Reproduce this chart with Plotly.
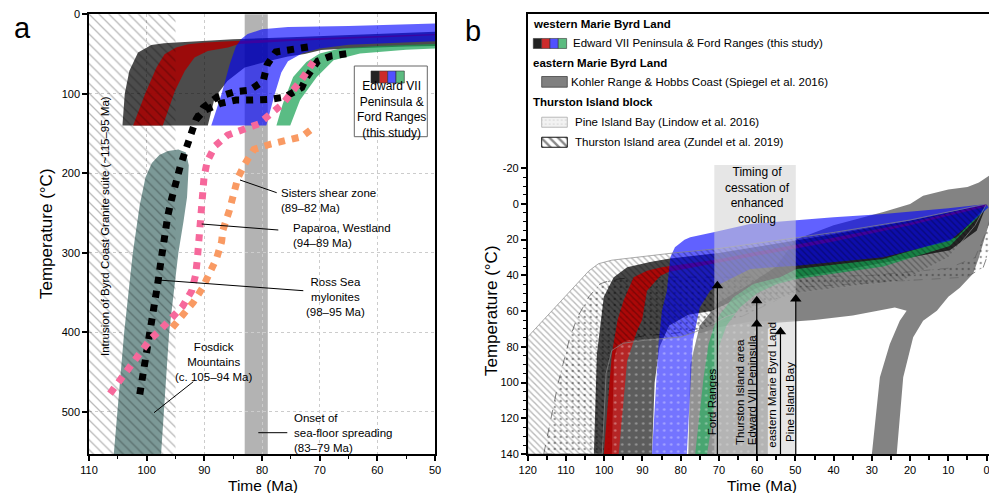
import plotly.graph_objects as go

# The page body has an 8px margin, so the figure is drawn 8px smaller and every
# layout position is given in reference-picture pixels minus that offset.
OFF = 8
W, H = 997 - OFF, 493 - OFF
FONT = "Arial, 'Liberation Sans', sans-serif"

# ---------------- Panel a data ----------------
pa_ticks_x = [110, 100, 90, 80, 70, 60, 50]
pa_ticks_y = [0, 100, 200, 300, 400, 500]
intrusion_x = [110, 95, 95, 110]          # Byrd Coast Granite suite (~115-95 Ma), clipped at 110
intrusion_y = [0, 0, 553, 553]
spreading_x = [83, 79]                    # onset of sea-floor spreading

fosdick_x = [105.7, 103.9, 102.4, 101.2, 100.2, 99.1, 97.8, 96.3, 94.5, 93.2, 92.7, 93.0, 93.6, 94.5, 96.1, 97.5]
fosdick_y = [553, 400, 300, 240, 205, 187, 177, 172, 170, 174, 190, 230, 260, 300, 400, 553]

pa_dark_x = [104.2, 103.8, 103.0, 101.5, 99.2, 97.0, 94.9, 90, 85, 75, 65, 50,
             50, 55, 65, 69.7, 72.6, 75.5, 79, 83, 86, 88.2, 89.4]
pa_dark_y = [140, 100, 71, 48, 38.6, 36.5, 35.6, 33.5, 31.5, 29, 26, 22,
             40, 40.5, 43, 45, 50, 53, 59, 67, 84, 105, 140]
pa_red_x = [102.35, 100.3, 98.3, 96.9, 94.9, 92.8, 89.9, 84.7, 75, 65, 50,
            50, 65, 75, 84, 85.9, 89.4, 91.7, 93.4, 95.1, 97.2]
pa_red_y = [140, 100.6, 67, 50.3, 41.9, 37.7, 35.6, 33.5, 31, 28.5, 25,
            26.5, 30.5, 33.5, 37.5, 41.9, 46.1, 54.5, 71.3, 96.5, 140]
pa_green_x = [77.5, 76.4, 74.6, 72.3, 70, 66.5, 60, 50, 50, 55, 63, 67.6, 70.5, 73.4, 75.1]
pa_green_y = [140, 113, 79, 60, 49.5, 43, 40, 37.5, 43, 44.5, 49.5, 58, 79, 108, 140]
pa_blue_x = [88.8, 87, 85.6, 84.5, 83.6, 82.5, 80, 75.5, 65, 50,
             50, 60, 65, 70, 73, 75.5, 76.65, 77.8, 79.25]
pa_blue_y = [140, 100, 63, 40, 31, 25, 19, 16, 14.7, 11.7,
             34, 36.5, 38.5, 43, 49, 59, 73.4, 100.6, 140]

rossA_x = [101.2, 100.7, 100.2, 99.7, 99.25, 98.85, 98.4, 98.0, 97.6, 97.2, 96.35, 95.7, 95.0, 94.2,
           93.3, 92.4, 91.45, 90.2, 87.75, 84.85, 82.2, 79.8, 79.1, 77.6, 74.7, 72.0]
rossA_y = [478, 457, 437, 417, 396, 376, 355, 335, 314, 293, 254, 233, 212, 192,
           172, 153, 132.5, 117.4, 104, 97.7, 95.6, 84.3, 63.3, 47.4, 43.2, 41.1]
rossB_x = [91.45, 90.0, 87.3, 84.5, 81.6, 78.9, 76.0, 73.1, 72.3, 71.2, 70.3, 68.0, 65.3]
rossB_y = [132.5, 121, 112.4, 108, 108, 107.3, 104, 92.2, 79.6, 68, 58.7, 52.4, 49.5]
paparoa_x = [106.35, 104.75, 103.0, 101.3, 99.4, 97.5, 95.5, 93.75, 92.2, 91.5, 91.2, 91.0, 90.75,
             90.5, 90.35, 90.05, 89.5, 88.15, 85.95, 83.35, 80.6, 78.45, 76.3, 74.6, 73.1, 71.1]
paparoa_y = [477, 461, 443, 427, 409, 396, 381.5, 367, 348, 327.5, 307, 286, 265,
             245, 225, 204.6, 185, 165.7, 152, 146, 138, 125, 112, 95.6, 82, 60]
sisters_x = [95.55, 93.65, 91.9, 90.3, 89.0, 87.85, 87.0, 86.8, 85.65, 84.2, 82.95, 81.4, 78.6, 75.85, 73.1, 70.8]
sisters_y = [394, 378, 362, 344, 325, 306.5, 286, 272, 246.5, 206, 188, 170, 163.5, 159, 154, 141]

# ---------------- Panel b data ----------------
pb_ticks_x = list(range(120, -1, -10))
pb_ticks_y = list(range(-20, 141, 20))
pb_ticktext_y = [str(v) for v in pb_ticks_y]

pb_kohler_x = [78, 77.5, 75, 70, 62, 55, 50, 40, 27, 20, 16.6, 10, 5, 2, -1.5,
               -1.5, 0.7, 2, 3.5, 7, 10, 13, 16.6, 19.2, 21.8, 23.5,
               30, 27.9, 25.3, 22.7, 20.9, 24, 28.8, 35, 45, 55, 57.2, 57.2]
pb_kohler_y = [140, 90, 68, 55, 45, 35, 20, 12, 4.5, 0, -4.6, -8, -9.5, -12, -17,
               5, 20.6, 30, 39, 47, 52, 59.8, 65.4, 74.7, 97, 140,
               140, 97, 78.4, 65.4, 59.8, 58, 60, 62.5, 65, 66.5, 70, 140]
pb_pib_x = [115.8, 112, 109, 107, 104, 101, 98, 94, 85, 70, 50, 30, 10, 3, 0, -1.8,
            -1.6, 0.9, 5.3, 21.8, 35, 48.8, 56, 64, 72, 80, 90, 94, 96.5, 97.5, 98]
pb_pib_y = [140, 100, 75, 63.5, 52, 44.7, 42.5, 41.5, 41, 41, 41, 40, 36, 30, 15, 2,
            20.6, 35.6, 41, 43, 45, 46.7, 55, 63, 68, 72, 74, 75.5, 78.5, 88, 140]
pb_dark_x = [102.7, 101.9, 100.1, 97.5, 94, 88, 82.8, 70, 60, 40, 20, 0,
             0, 2.6, 9.6, 15, 27, 40, 50, 60, 66, 72, 78, 83, 85.5, 86.8, 87.5]
pb_dark_y = [140, 84, 52, 41, 35.5, 32.5, 30.5, 27.5, 24, 17, 9.5, 0,
             0.5, 15, 26, 28, 33, 38, 41, 47, 54, 60, 62, 68, 80, 100, 140]
pb_red_x = [100.1, 98.5, 98, 96.5, 94.9, 92.3, 88.8, 85, 70, 61.8, 40, 20, 0,
            0, 20, 40, 61.8, 70, 83, 85.3, 88.8, 90.1, 91.4, 94, 95, 96.2]
pb_red_y = [140, 100, 84, 65, 54, 41, 37.4, 35.5, 31, 27.5, 19, 10.5, 0,
            1.5, 12, 21, 29.5, 33, 38, 40.2, 48.6, 65, 71, 88, 110, 140]
pb_green_x = [76.2, 74, 72.7, 71, 69.7, 66.2, 61, 54, 49.7, 27, 7.8, 0,
              0, 9.6, 27, 49.7, 55, 60, 64.5, 68, 70, 71.4, 73.1]
pb_green_y = [140, 97, 78.4, 67, 61.6, 52.3, 44.8, 41, 36.4, 30.8, 18.7, 1,
              2.5, 23.5, 35, 42, 45, 50, 58, 68, 80, 115.8, 140]
pb_blue_x = [87.5, 85.8, 84.9, 83.6, 82.7, 81.5, 79, 77.5, 71.4, 61.9, 40, 27, 10, 0,
             -0.5, 9.6, 27, 49.7, 61.8, 69.7, 72.3, 75, 76.8, 78.4]
pb_blue_y = [140, 78.4, 59.8, 48.6, 29.9, 24.3, 20, 18.7, 15.9, 11.2, 7.5, 5.6, 2.5, 0,
             2, 20.6, 29.9, 34.6, 36.4, 44.8, 48.6, 58, 76.6, 140]
pb_light_x = [98, 97.5, 96.5, 94, 85, 75, 70, 62, 57, 50, 50]
pb_light_y = [140, 88, 79, 76.5, 75, 72.5, 69, 66, 65.5, 65, 140]
pb_thurston_x = [120, 120, 112, 104, 101.5, 98, 90, 82, 70, 60, 40, 20, 0,
                 3, 10, 22, 35, 50, 60, 68, 74, 80, 90, 95, 98, 99.5, 100.5]
pb_thurston_y = [140, 74.5, 56, 37.5, 33.5, 31.5, 29.5, 27.5, 25, 22, 16, 9, 0,
                 12, 30, 43, 46, 50, 57, 63, 70, 74.5, 76.5, 78, 82, 95, 140]

timing_x = [71.2, 49.9]
timing_y = [-21.8, 140]
arrow_x = [70.4, 60.1, 60.1, 53.9, 49.9]
arrow_tip = [43, 51.4, 64.4, 68.7, 50.4]

# ---------------- helpers (reference-picture pixels -> paper fractions) ----------------
def pxp(x): return (x - OFF) / W
def pyp(y): return 1 - (y - OFF) / H
def bx(x): return 120 - (x - 527.7) / 3.825
def by(y): return (y - 203.3) / 1.785

fig = go.Figure()

def poly(x, y, color, xa='x', ya='y', line=None, pattern=None):
    fig.add_trace(go.Scatter(x=list(x) + [x[0]], y=list(y) + [y[0]], xaxis=xa, yaxis=ya,
                             fill='toself', fillcolor=color, mode='lines',
                             line=line or dict(width=0, color='rgba(0,0,0,0)'),
                             fillpattern=pattern, hoverinfo='skip', showlegend=False))

def dotted(x, y, color, xa='x', ya='y'):
    fig.add_trace(go.Scatter(x=x, y=y, xaxis=xa, yaxis=ya, mode='lines',
                             line=dict(color=color, width=7, dash='dot'),
                             hoverinfo='skip', showlegend=False))

# ---------------- Panel a ----------------
poly(fosdick_x, fosdick_y, '#7c9997')
poly(pa_dark_x, pa_dark_y, 'rgba(0,0,0,0.70)')
poly(pa_red_x, pa_red_y, 'rgba(170,0,0,0.85)')
poly(pa_green_x, pa_green_y, 'rgba(20,160,80,0.70)')
poly(pa_blue_x, pa_blue_y, 'rgba(0,0,255,0.62)')
poly(intrusion_x, intrusion_y, 'rgba(0,0,0,0)',
     pattern=dict(shape='\\', size=7, solidity=0.18, fgcolor='rgba(0,0,0,0.55)',
                  bgcolor='rgba(0,0,0,0)'))
dotted(sisters_x, sisters_y, '#f99a63')
dotted(rossA_x, rossA_y, '#000000')
dotted(rossB_x, rossB_y, '#000000')
dotted(paparoa_x, paparoa_y, '#f6689b')

# ---------------- Panel b ----------------
poly(pb_kohler_x, pb_kohler_y, 'rgba(90,90,90,0.75)', 'x2', 'y2')
poly(pb_pib_x, pb_pib_y, 'rgba(0,0,0,0)', 'x2', 'y2',
     line=dict(width=0.8, color='#666', dash='dash'),
     pattern=dict(shape='.', size=6, solidity=0.12, fgcolor='#333', bgcolor='rgba(0,0,0,0)'))
poly(pb_dark_x, pb_dark_y, 'rgba(0,0,0,0.72)', 'x2', 'y2')
poly(pb_red_x, pb_red_y, 'rgba(185,0,0,0.88)', 'x2', 'y2')
poly(pb_green_x, pb_green_y, 'rgba(20,160,80,0.75)', 'x2', 'y2')
poly(pb_blue_x, pb_blue_y, 'rgba(0,0,255,0.62)', 'x2', 'y2')
poly(pb_light_x, pb_light_y, 'rgba(255,255,255,0.12)', 'x2', 'y2',
     pattern=dict(shape='.', size=7, solidity=0.1, fgcolor='rgba(255,255,255,0.7)',
                  bgcolor='rgba(255,255,255,0.12)'))
poly(pb_thurston_x, pb_thurston_y, 'rgba(0,0,0,0)', 'x2', 'y2',
     line=dict(width=0.7, color='#888'),
     pattern=dict(shape='\\', size=4.5, solidity=0.3, fgcolor='rgba(0,0,0,0.55)',
                  bgcolor='rgba(0,0,0,0)'))
poly([timing_x[0], timing_x[1], timing_x[1], timing_x[0]],
     [timing_y[0], timing_y[0], timing_y[1], timing_y[1]], 'rgba(209,209,209,0.54)', 'x2', 'y2')

for ax_, tip in zip(arrow_x, arrow_tip):
    fig.add_trace(go.Scatter(x=[ax_, ax_], y=[140, tip + 3], xaxis='x2', yaxis='y2', mode='lines',
                             line=dict(color='black', width=1.2), hoverinfo='skip', showlegend=False))
fig.add_trace(go.Scatter(x=arrow_x, y=[t + 2.8 for t in arrow_tip], xaxis='x2', yaxis='y2',
                         mode='markers', marker=dict(symbol='triangle-up', size=10, color='black'),
                         hoverinfo='skip', showlegend=False))

# legend swatches panel b
sw_colors = ['#222222', '#cc2b2b', '#5151ff', '#5cbb80']
for i, c in enumerate(sw_colors):
    x0, x1 = bx(533.3 + 8.33 * i), bx(533.3 + 8.33 * (i + 1))
    poly([x0, x1, x1, x0], [by(38), by(38), by(48), by(48)], c, 'x2', 'y2',
         line=dict(width=0.6, color='#333'))
poly([bx(541.7), bx(567.3), bx(567.3), bx(541.7)], [by(76), by(76), by(86.7), by(86.7)],
     '#808080', 'x2', 'y2', line=dict(width=0.8, color='#444'))
poly([bx(541.7), bx(567.3), bx(567.3), bx(541.7)], [by(116.7), by(116.7), by(126.7), by(126.7)],
     '#f0f0f0', 'x2', 'y2', line=dict(width=0.8, color='#aaa'),
     pattern=dict(shape='.', size=4, solidity=0.15, fgcolor='#bbb', bgcolor='#f2f2f2'))
poly([bx(541.7), bx(567.3), bx(567.3), bx(541.7)], [by(136.7), by(136.7), by(146.7), by(146.7)],
     'white', 'x2', 'y2', line=dict(width=1, color='#111'),
     pattern=dict(shape='\\', size=6, solidity=0.4, fgcolor='#111', bgcolor='white'))

# ---------------- shapes ----------------
shapes = [
    dict(type='rect', xref='x', yref='y', x0=spreading_x[0], x1=spreading_x[1], y0=553, y1=0,
         fillcolor='#b3b3b3', line=dict(width=0), layer='below'),
    dict(type='rect', xref='paper', yref='paper', x0=pxp(354.3), x1=pxp(427.3), y0=pyp(66), y1=pyp(136.7),
         fillcolor='white', line=dict(width=1, color='#666'), layer='above'),
]
for i, c in enumerate(sw_colors):
    shapes.append(dict(type='rect', xref='paper', yref='paper', x0=pxp(371 + 8.33 * i), x1=pxp(371 + 8.33 * (i + 1)),
                       y0=pyp(71), y1=pyp(83), fillcolor=c, line=dict(width=0.6, color='#333'), layer='above'))
leaders = [((240, 180), (276.7, 192.7)), ((201.7, 224), (278.3, 230)), ((158.3, 280), (303.3, 290.7)),
           ((193.3, 381.7), (154, 412.7)), ((258.3, 432.7), (287.3, 432.7))]
for (a, b) in leaders:
    shapes.append(dict(type='line', xref='paper', yref='paper', x0=pxp(a[0]), y0=pyp(a[1]),
                       x1=pxp(b[0]), y1=pyp(b[1]), line=dict(color='black', width=1), layer='above'))

# ---------------- annotations ----------------
ann = []
def txt(x, y, t, size=11.5, xanchor='center', yanchor='middle', angle=0, align='center', bold=False):
    if bold:
        t = '<b>' + t + '</b>'
    ann.append(dict(x=pxp(x), y=pyp(y), xref='paper', yref='paper', text=t, showarrow=False,
                    xanchor=xanchor, yanchor=yanchor, textangle=angle, align=align,
                    font=dict(size=size, color='black', family=FONT)))

txt(22, 28, 'a', size=29)
txt(473, 31, 'b', size=29)
txt(263, 485, 'Time (Ma)', size=15.5)
txt(762, 485, 'Time (Ma)', size=15.5)
txt(46, 234, 'Temperature (°C)', size=17, angle=-90)
txt(491, 311, 'Temperature (°C)', size=17, angle=-90)
txt(105, 226, 'Intrusion of Byrd Coast Granite suite (~115–95 Ma)', size=11.5, angle=-90)
txt(279, 201, 'Sisters shear zone<br>(89–82 Ma)', xanchor='left', align='left')
txt(290.7, 235, 'Paparoa, Westland<br>(94–89 Ma)', xanchor='left', align='left')
txt(335, 297.3, 'Ross Sea<br>mylonites<br>(98–95 Ma)')
txt(214.3, 362, 'Fosdick<br>Mountains<br>(c. 105–94 Ma)')
txt(292.3, 432.7, 'Onset of<br>sea-floor spreading<br>(83–79 Ma)', xanchor='left', align='left')
txt(391, 109.5, 'Edward VII<br>Peninsula &<br>Ford Ranges<br>(this study)', size=12)

txt(530.7, 24, 'western Marie Byrd Land', xanchor='left', bold=True)
txt(570.7, 43.3, 'Edward VII Peninsula & Ford Ranges (this study)', xanchor='left')
txt(530.7, 62.7, 'eastern Marie Byrd Land', xanchor='left', bold=True)
txt(569.3, 81.7, 'Kohler Range & Hobbs Coast (Spiegel et al. 2016)', xanchor='left')
txt(530.7, 102.3, 'Thurston Island block', xanchor='left', bold=True)
txt(573.3, 122.3, 'Pine Island Bay (Lindow et al. 2016)', xanchor='left')
txt(573.3, 141.7, 'Thurston Island area (Zundel et al. 2019)', xanchor='left')

txt(757, 195.2, 'Timing of<br>cessation of<br>enhanced<br>cooling', size=12)
txt(711.7, 437, 'Ford Ranges', angle=-90, yanchor='bottom')
txt(740, 447, 'Thurston Island area', angle=-90, yanchor='bottom')
txt(751.7, 447, 'Edward VII Peninsula', angle=-90, yanchor='bottom')
txt(771.7, 450, 'eastern Marie Byrd Land', angle=-90, yanchor='bottom')
txt(790, 444, 'Pine Island Bay', angle=-90, yanchor='bottom')

axis_common = dict(ticks='outside', ticklen=5, tickwidth=1.5, tickcolor='black', showline=True,
                   linewidth=1.5, linecolor='black', mirror=True, zeroline=False, automargin=False,
                   tickfont=dict(size=11, family=FONT, color='black'))

fig.update_layout(
    width=W, height=H, margin=dict(l=0, r=0, t=0, b=0, pad=0, autoexpand=False),
    paper_bgcolor='white', plot_bgcolor='white', showlegend=False,
    font=dict(family=FONT, size=11, color='black'),
    shapes=shapes, annotations=ann,
    xaxis=dict(domain=[pxp(89), pxp(435)], range=[110, 50], anchor='y', tickvals=pa_ticks_x,
               showgrid=True, gridcolor='#cccccc', griddash='dot', gridwidth=1,
               minor=dict(tickvals=[105, 95, 85, 75, 65, 55], ticks='outside', ticklen=3,
                          tickwidth=1, tickcolor='black', showgrid=False), **axis_common),
    yaxis=dict(domain=[pyp(454), pyp(14)], range=[553, -0.3], anchor='x', tickvals=pa_ticks_y,
               showgrid=True, gridcolor='#cccccc', griddash='dot', gridwidth=1, **axis_common),
    xaxis2=dict(domain=[pxp(527.7), pxp(995)], range=[120, -2.2], anchor='y2', tickvals=pb_ticks_x,
                showgrid=False,
                minor=dict(tickvals=list(range(115, 0, -10)), ticks='outside', ticklen=4,
                           tickwidth=1.5, tickcolor='black', showgrid=False), **axis_common),
    yaxis2=dict(domain=[pyp(454), pyp(14)], range=[140, -106.3], anchor='x2', tickvals=pb_ticks_y,
                ticktext=pb_ticktext_y, showgrid=False,
                minor=dict(tickvals=[v for v in range(-20, 141, 5) if v % 20 != 0], ticks='outside',
                           ticklen=3, tickwidth=1, tickcolor='black', showgrid=False), **axis_common),
)

fig.write_html("out.html")
